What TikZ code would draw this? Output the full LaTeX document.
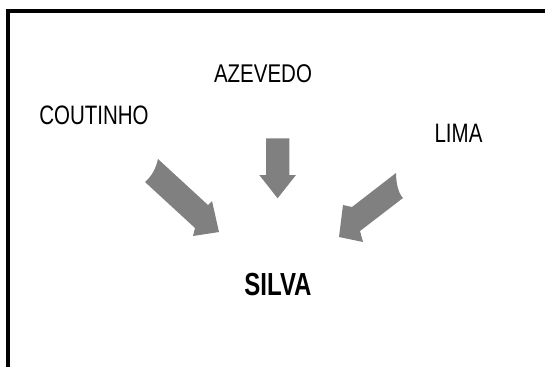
\documentclass[tikz,border=0pt]{standalone}
\usepackage{fontspec}
\setmainfont{Liberation Sans}
\definecolor{arrowgray}{HTML}{808080}
\begin{document}
\begin{tikzpicture}[x=1pt,y=-1pt,
  surname/.style={inner sep=0pt, font=\fontsize{20.5}{24}\selectfont},
  targetname/.style={inner sep=0pt, font=\fontsize{24}{28}\selectfont\bfseries},
  blockarrow/.style={fill=arrowgray, draw=none},
  frameline/.style={line width=4pt, line cap=butt}]
  \useasboundingbox (0,0) rectangle (545,367);

  % frame: top and left rules
  \draw[frameline] (6,11) -- (545,11);
  \draw[frameline] (8,9) -- (8,367);

  % surnames
  \node[surname]    (coutinho) at (94,115)    {\scalebox{1}[1.3]{COUTINHO}};
  \node[surname]    (azevedo)  at (263,74)    {\scalebox{1}[1.25]{AZEVEDO}};
  \node[surname]    (lima)     at (458.5,133) {\scalebox{1}[1.3]{LIMA}};
  \node[targetname] (silva)    at (278,285)   {\scalebox{1}[1.33]{SILVA}};

  % left notched arrow
  \fill[blockarrow] (158,159) -- (208,205) -- (212,201) -- (219,232)
    -- (193,236) -- (195,228) -- (145,182)
    .. controls (152,176) and (156,168) .. cycle;

  % middle arrow
  \fill[blockarrow] (266,138.3) -- (289.3,138.3) -- (289.3,175)
    -- (296,175) -- (277.6,198.3) -- (259.3,175) -- (266,175) -- cycle;

  % right notched arrow
  \fill[blockarrow] (396,173) -- (352,207) -- (343,205) -- (339,237)
    -- (363,242) -- (360,231) -- (403,198)
    .. controls (398,193) and (396,182) .. cycle;
\end{tikzpicture}
\end{document}
